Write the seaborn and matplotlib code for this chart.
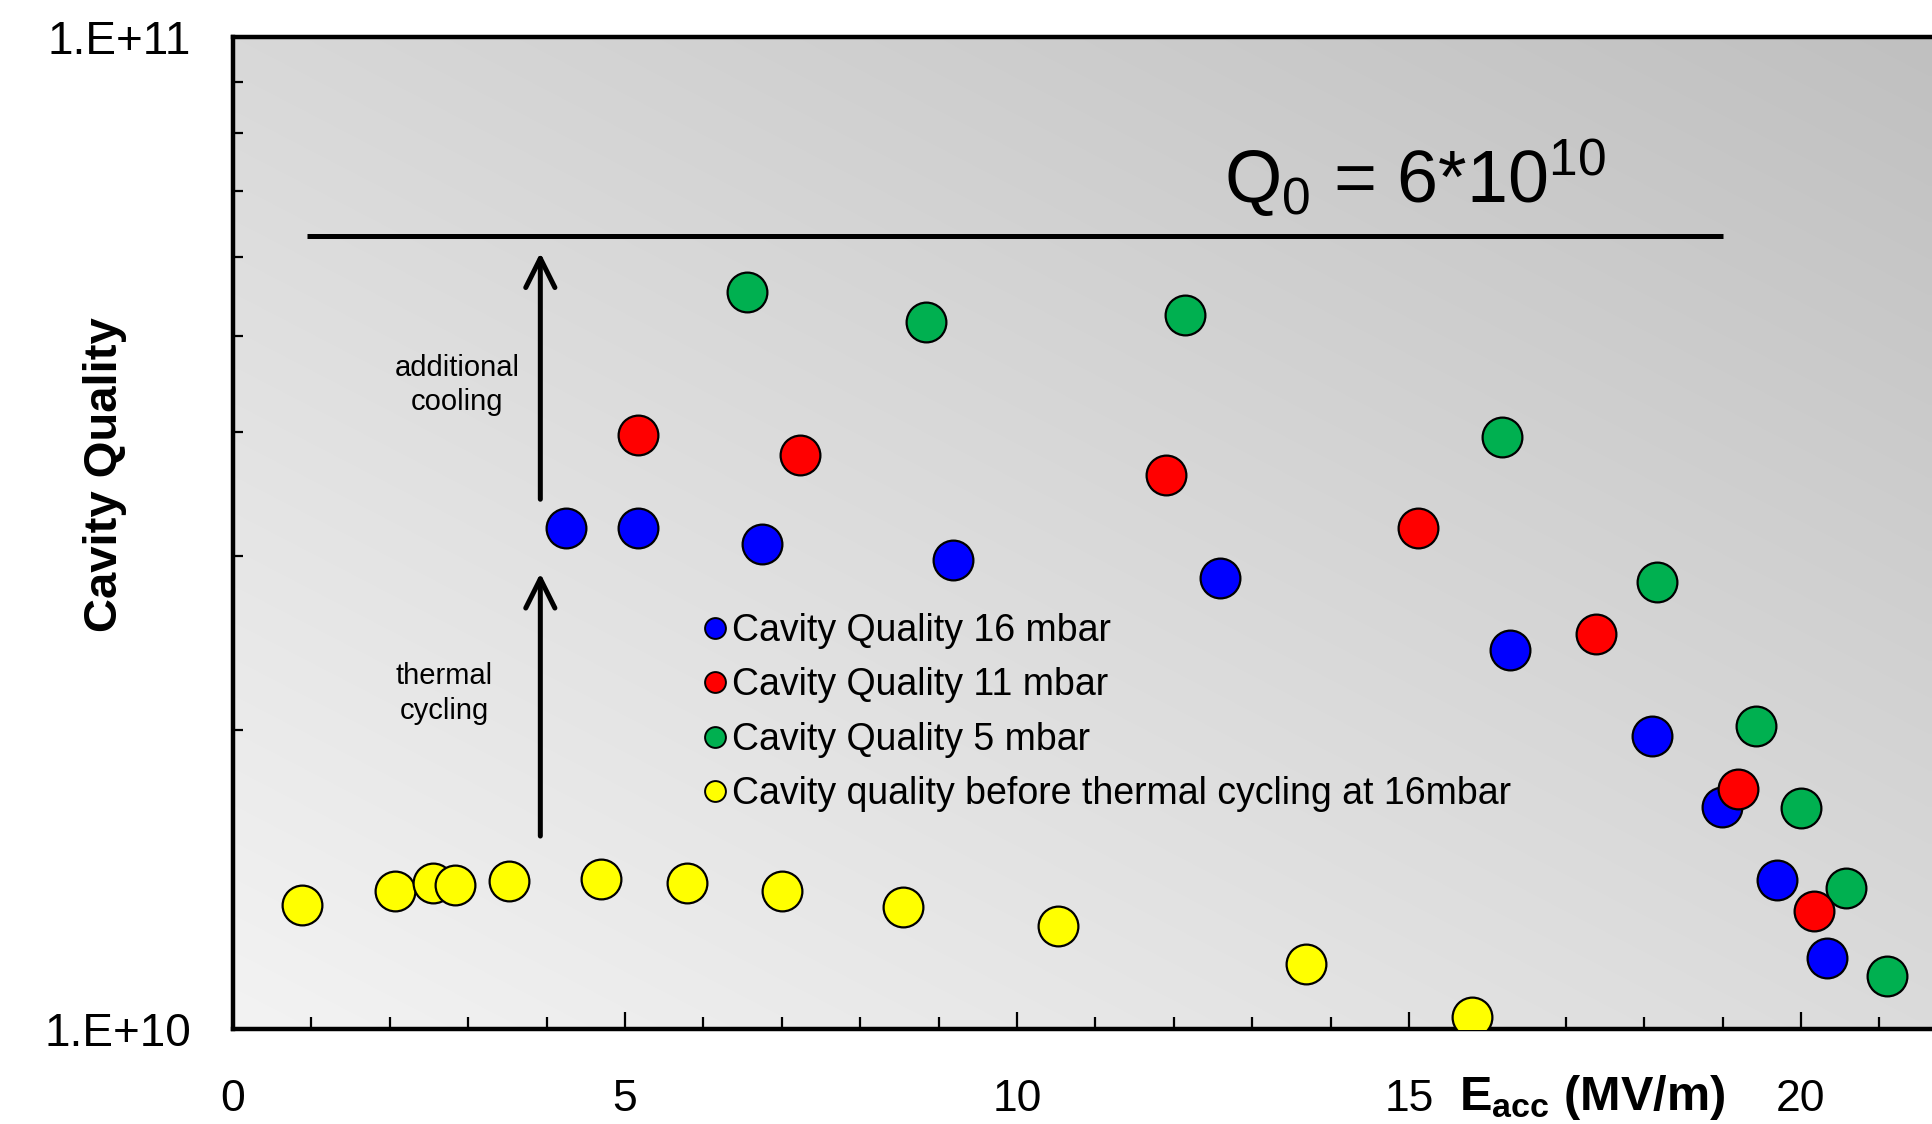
import numpy as np
import pandas as pd
import matplotlib
matplotlib.use("Agg")
import matplotlib.pyplot as plt
import seaborn as sns
from matplotlib.lines import Line2D
from matplotlib.ticker import FixedLocator, FixedFormatter, MultipleLocator, NullFormatter

# ---------------- data ----------------
yellow_x = [0.88, 2.06, 2.55, 2.83, 3.52, 4.70, 5.79, 7.00, 8.55, 10.52, 13.69, 15.80]
yellow_q = [1.335e10, 1.378e10, 1.402e10, 1.397e10, 1.41e10, 1.418e10, 1.402e10, 1.378e10,
            1.327e10, 1.271e10, 1.164e10, 1.029e10]
blue_x = [4.25, 5.16, 6.75, 9.18, 12.59, 16.29, 18.10, 18.99, 19.70, 20.33]
blue_q = [3.20e10, 3.20e10, 3.08e10, 2.97e10, 2.85e10, 2.41e10, 1.976e10, 1.674e10, 1.413e10, 1.18e10]
red_x = [5.17, 7.23, 11.90, 15.11, 17.39, 19.20, 20.16]
red_q = [3.97e10, 3.79e10, 3.62e10, 3.20e10, 2.50e10, 1.747e10, 1.316e10]
green_x = [6.56, 8.84, 12.14, 16.18, 18.16, 19.42, 20.0, 20.58, 21.10]
green_q = [5.53e10, 5.16e10, 5.25e10, 3.95e10, 2.82e10, 2.02e10, 1.669e10, 1.386e10, 1.131e10]

legend_labels = ["Cavity Quality 16 mbar", "Cavity Quality 11 mbar", "Cavity Quality 5 mbar",
                 "Cavity quality before thermal cycling at 16mbar"]
legend_colors = ["#0000FF", "#FF0000", "#00B050", "#FFFF00"]

x_ticks = [0, 5, 10, 15, 20]
y_ticks = [1e10, 1e11]
y_tick_labels = ["1.E+10", "1.E+11"]
target_q = 6.3e10
target_x = [0.95, 19.0]
arrow_x = 3.92
arrow_upper = [3.42e10, 6.06e10]
arrow_lower = [1.565e10, 2.88e10]

# ---------------- style ----------------
sns.set_style("ticks")
plt.rcParams["font.family"] = ["Liberation Sans", "DejaVu Sans"]
plt.rcParams["mathtext.fontset"] = "custom"
plt.rcParams["mathtext.rm"] = "Liberation Sans"
plt.rcParams["mathtext.it"] = "Liberation Sans:italic"
plt.rcParams["mathtext.bf"] = "Liberation Sans:bold"
for k in ["text.color", "axes.labelcolor", "xtick.color", "ytick.color", "axes.edgecolor"]:
    plt.rcParams[k] = "black"

W, H = 1933, 1124
fig = plt.figure(figsize=(W / 100, H / 100), dpi=100)
left, right, top, bottom = 233, W, 37, 1029
ax = fig.add_axes([left / W, 1 - bottom / H, (right - left) / W, (bottom - top) / H])

# gradient background
nx, ny = 200, 200
u = np.linspace(0, 1, nx)[None, :]
v = np.linspace(0, 1, ny)[:, None]
val = (243 - 24 * u - 27 * v) / 255.0
rgb = np.dstack([val, val, val])
ax.imshow(rgb, extent=(0, 1, 0, 1), transform=ax.transAxes, origin="lower",
          aspect="auto", zorder=0, interpolation="bilinear")

series = [
    (yellow_x, yellow_q, legend_colors[3]),
    (blue_x, blue_q, legend_colors[0]),
    (green_x, green_q, legend_colors[2]),
    (red_x, red_q, legend_colors[1]),
]
for xs, qs, col in series:
    df = pd.DataFrame({"E": xs, "Q": qs})
    sns.scatterplot(data=df, x="E", y="Q", ax=ax, color=col, s=820,
                    edgecolor="black", linewidth=1.6, zorder=3, legend=False)

ax.set_yscale("log")
ax.set_xlim(0, (right - left) / 78.4)
ax.set_ylim(1e10, 1e11)

# target line
ax.plot(target_x, [target_q, target_q], color="black", lw=3.6, zorder=2, solid_capstyle="butt")
ax.text(12.64, 6.8e10, r"Q$_{\mathrm{0}}$ = 6*10$^{\mathrm{10}}$", fontsize=53,
        ha="left", va="baseline", zorder=4)

# arrows
for a0, a1 in (arrow_upper, arrow_lower):
    ax.annotate("", xy=(arrow_x, a1), xytext=(arrow_x, a0),
                arrowprops=dict(arrowstyle="->,head_length=0.7,head_width=0.35",
                                lw=3.6, color="black", mutation_scale=30,
                                shrinkA=0, shrinkB=0), zorder=4)
ax.text(2.86, 4.46e10, "additional\ncooling", fontsize=21, ha="center", va="center",
        linespacing=1.3, zorder=4)
ax.text(2.69, 2.18e10, "thermal\ncycling", fontsize=21, ha="center", va="center",
        linespacing=1.3, zorder=4)

# axes styling
for s in ["left", "bottom", "top"]:
    ax.spines[s].set_linewidth(3.2)
    ax.spines[s].set_color("black")
ax.spines["right"].set_visible(False)

ax.xaxis.set_major_locator(FixedLocator(x_ticks))
ax.xaxis.set_minor_locator(MultipleLocator(1))
ax.yaxis.set_major_locator(FixedLocator(y_ticks))
ax.yaxis.set_major_formatter(FixedFormatter(y_tick_labels))
ax.yaxis.set_minor_locator(FixedLocator([k * 1e10 for k in range(2, 10)]))
ax.yaxis.set_minor_formatter(NullFormatter())
ax.tick_params(axis="x", which="major", direction="in", length=12, width=1.6,
               labelsize=32, pad=36, top=False, colors="black")
ax.tick_params(axis="x", which="minor", direction="in", length=8.5, width=1.6, top=False,
               colors="black")
ax.tick_params(axis="y", which="major", direction="in", length=7, width=1.6,
               labelsize=33, pad=30, right=False, colors="black")
ax.tick_params(axis="y", which="minor", direction="in", length=7, width=1.6, right=False,
               colors="black")
ax.set_xlabel("")
ax.set_ylabel("")

fig.text(105 / W, 1 - 475 / H, "Cavity Quality", rotation=90, fontsize=34,
         fontweight="bold", ha="center", va="center", color="black")
fig.text(1592 / W, 1 - 1097 / H, r"$\mathbf{E_{acc}}$ (MV/m)", fontsize=35,
         fontweight="bold", ha="center", va="center", color="black")

handles = [Line2D([0], [0], marker="o", linestyle="", markersize=15,
                  markerfacecolor=c, markeredgecolor="black", markeredgewidth=1.4)
           for c in legend_colors]
leg = ax.legend(handles, legend_labels, loc="upper left",
                bbox_to_anchor=(704 / W, 1 - 613 / H), bbox_transform=fig.transFigure,
                frameon=False, fontsize=27, handlelength=0.6, handletextpad=0.15,
                labelspacing=0.49, borderpad=0, borderaxespad=0, labelcolor="black")
leg.set_zorder(5)

fig.savefig("out.png", dpi=100)
